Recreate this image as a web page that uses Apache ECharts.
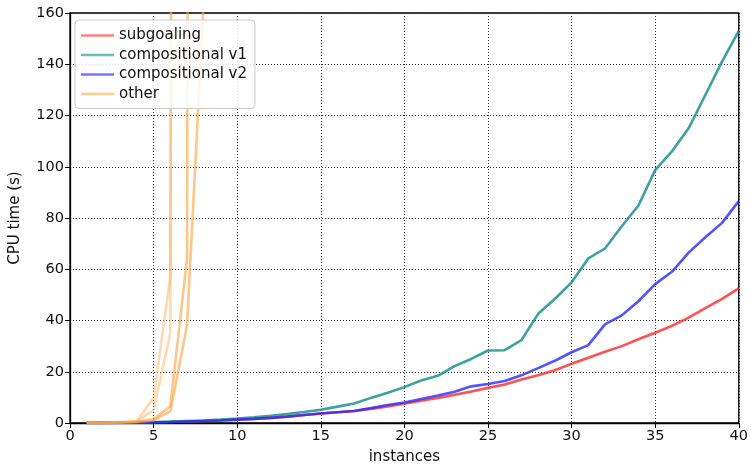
<!DOCTYPE html>
<html>
<head>
<meta charset="utf-8">
<script src="https://cdn.jsdelivr.net/npm/echarts@6/dist/echarts.min.js"></script>
<style>
  html, body { margin: 0; padding: 0; background: #fff; }
  #chart { width: 751px; height: 470px; }
</style>
</head>
<body>
<div id="chart"></div>
<script>
// instance numbers on the x axis
const instances = [1,2,3,4,5,6,7,8,9,10,11,12,13,14,15,16,17,18,19,20,
                   21,22,23,24,25,26,27,28,29,30,31,32,33,34,35,36,37,38,39,40];

// CPU time (s) per instance
const subgoaling = [0,0.05,0.1,0.2,0.3,0.4,0.6,0.8,1.0,1.3,1.6,2.0,2.5,3.1,3.7,4.2,4.7,5.5,6.5,7.5,
                    8.7,9.8,11.0,12.3,13.7,15.0,17.0,18.6,20.6,23.1,25.5,27.8,30.0,32.7,35.2,37.9,41.1,44.8,48.4,52.5];
const compositionalV1 = [0,0.05,0.1,0.2,0.4,0.6,0.8,1.0,1.3,1.7,2.2,2.8,3.5,4.3,5.2,6.4,7.6,9.8,11.8,14.0,
                         16.6,18.4,22.2,25.0,28.3,28.4,32.3,42.6,48.4,54.9,64.2,68.1,76.8,84.9,98.7,106,115,128,141,153];
const compositionalV2 = [0,0.05,0.1,0.2,0.3,0.4,0.6,0.8,1.0,1.3,1.6,2.0,2.5,3.1,3.7,4.2,4.7,5.8,7.0,8.0,
                         9.4,10.7,12.2,14.3,15.2,16.4,18.6,21.4,24.3,27.6,30.4,38.5,42.0,47.5,54.2,59.0,66.5,72.5,78.1,86.6];

// other solvers (blow up after a few instances)
const otherA = [0,0.1,0.3,0.8,9.8,57,3000];
const otherB = [0,0.1,0.3,0.7,5.0,35,3000];
const otherC = [0,0.1,0.2,0.5,1.5,6.5,64,3000];
const otherD = [0,0.1,0.2,0.4,1.0,4.5,38,165];

const xTicks = [0,5,10,15,20,25,30,35,40];
const yTicks = [0,20,40,60,80,100,120,140,160];

const FONT = 'DejaVu Sans';

function pairs(values) {
  return values.map((v, i) => [instances[i], v]);
}

function lineSeries(name, values, color, width, z) {
  return {
    name: name,
    type: 'line',
    data: pairs(values),
    symbol: 'none',
    clip: true,
    z: z,
    lineStyle: { color: color, width: width },
    itemStyle: { color: color },
    emphasis: { disabled: true },
    animation: false
  };
}

function legendItem(name, color) {
  return { name: name, icon: 'rect', itemStyle: { color: color, borderWidth: 0 } };
}

const chart = echarts.init(document.getElementById('chart'), null, { renderer: 'canvas' });

chart.setOption({
  animation: false,
  backgroundColor: '#ffffff',
  textStyle: { fontFamily: FONT },
  grid: {
    left: 68, right: 9, top: 13, bottom: 43,
    show: true, borderColor: '#000', borderWidth: 1.3,
    backgroundColor: 'transparent'
  },
  legend: {
    orient: 'vertical',
    left: 75, top: 20,
    padding: [8, 8, 7, 6],
    itemGap: 4.5,
    itemWidth: 33, itemHeight: 2.5,
    backgroundColor: 'rgba(255,255,255,0.85)',
    borderColor: '#cccccc', borderWidth: 1, borderRadius: 4,
    textStyle: { fontFamily: FONT, fontSize: 15, color: '#111' },
    data: [
      legendItem('subgoaling', '#ff8080'),
      legendItem('compositional v1', '#6cbdb7'),
      legendItem('compositional v2', '#7474ff'),
      legendItem('other', '#ffcb8c')
    ]
  },
  xAxis: {
    type: 'value', min: 0, max: 40, interval: 5,
    name: 'instances', nameLocation: 'middle', nameGap: 27,
    nameTextStyle: { fontFamily: FONT, fontSize: 15, color: '#111' },
    axisLine: { show: true, onZero: false, lineStyle: { color: '#000', width: 1.3 } },
    axisTick: { show: true, length: 5, inside: false, lineStyle: { color: '#000' } },
    axisLabel: {
      fontFamily: FONT, fontSize: 14.5, color: '#111', margin: 6,
      customValues: xTicks, formatter: v => String(v)
    },
    splitLine: { show: true, lineStyle: { color: '#333', width: 1, type: [1, 2] } }
  },
  yAxis: {
    type: 'value', min: 0, max: 160, interval: 20,
    name: 'CPU time (s)', nameLocation: 'middle', nameGap: 47,
    nameTextStyle: { fontFamily: FONT, fontSize: 15, color: '#111' },
    axisLine: { show: true, onZero: false, lineStyle: { color: '#000', width: 1.3 } },
    axisTick: { show: true, length: 5, inside: false, lineStyle: { color: '#000' } },
    axisLabel: {
      fontFamily: FONT, fontSize: 14.5, color: '#111', margin: 6,
      customValues: yTicks, formatter: v => String(v)
    },
    splitLine: { show: true, lineStyle: { color: '#333', width: 1, type: [1, 2] } }
  },
  series: [
    lineSeries('subgoaling', subgoaling, 'rgba(255,40,40,0.8)', 2.6, 2),
    lineSeries('compositional v1', compositionalV1, 'rgba(20,140,135,0.82)', 2.6, 2),
    lineSeries('compositional v2', compositionalV2, 'rgba(40,40,255,0.8)', 2.6, 2),
    lineSeries('other', otherA, 'rgba(255,170,80,0.45)', 2.6, 3),
    lineSeries('other', otherB, 'rgba(255,170,80,0.45)', 2.6, 3),
    lineSeries('other', otherC, 'rgba(255,160,60,0.6)', 2.6, 3),
    lineSeries('other', otherD, 'rgba(255,160,60,0.6)', 2.6, 3)
  ]
});
</script>
</body>
</html>
